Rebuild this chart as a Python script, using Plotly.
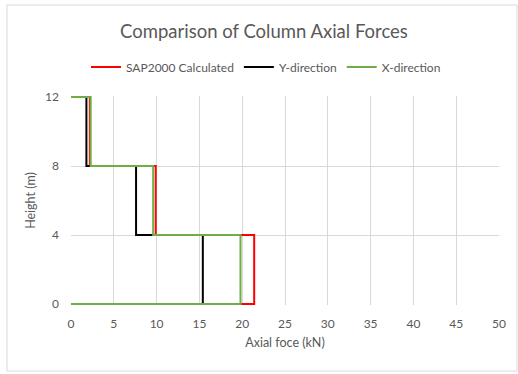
import plotly.graph_objects as go

# Floor levels (m) and axial force in each storey (kN), top storey first
levels = [12, 8, 4, 0]
sap2000 = [2.2, 9.9, 21.4]
y_dir = [1.8, 7.6, 15.4]
x_dir = [2.3, 9.6, 19.8]

x_ticks = list(range(0, 51, 5))
y_ticks = [0, 4, 8, 12]

series = [
    ("SAP2000 Calculated", sap2000, "#FF0000"),
    ("Y-direction", y_dir, "#000000"),
    ("X-direction", x_dir, "#70AD47"),
]


def step_path(forces):
    """Stepped force profile: constant force within each storey."""
    xs, ys = [0], [levels[0]]
    for i, f in enumerate(forces):
        xs += [f, f]
        ys += [levels[i], levels[i + 1]]
    xs.append(0)
    ys.append(levels[-1])
    return xs, ys


fig = go.Figure()
for name, forces, color in series:
    xs, ys = step_path(forces)
    fig.add_trace(go.Scatter(x=xs, y=ys, mode="lines", name=name,
                             line=dict(color=color, width=2)))

txt = "#595959"
grid = "#D9D9D9"
font = "Lato, 'Open Sans', sans-serif"

W, H = 518, 374
left, right, top, bottom = 71, 499, 97, 304
px_per = (bottom - top) / 12
# one pixel of vertical padding so the lines along 0 and 12 are not clipped
pad = 1 / px_per
t_m = top - 1
b_m = H - (bottom + 1)
plot_h = H - t_m - b_m


def py(y_pix):
    """Container pixel row -> paper y coordinate of the plot area."""
    return (H - b_m - y_pix) / plot_h


def px(x_pix):
    return (x_pix - left) / (right - left)


fig.update_layout(
    width=W, height=H,
    margin=dict(l=left, r=W - right, t=t_m, b=b_m),
    paper_bgcolor="white", plot_bgcolor="white",
    font=dict(family=font, color=txt, size=12),
    title=dict(text="Comparison of Column Axial Forces",
               x=264 / W, xanchor="center", xref="container",
               y=1 - 32 / H, yanchor="middle",
               font=dict(size=18.5, color=txt, family=font)),
    legend=dict(orientation="h", x=px(266), xanchor="center",
                y=py(67), yanchor="middle",
                font=dict(size=12, color=txt), traceorder="normal",
                itemwidth=30, bgcolor="rgba(0,0,0,0)"),
    xaxis=dict(range=[0, 50], tickvals=x_ticks, showgrid=True, gridcolor=grid,
               gridwidth=1, zeroline=False, showline=False, ticks="",
               tickfont=dict(size=12, color=txt), ticklabelstandoff=10,
               title=dict(text="Axial foce (kN)", font=dict(size=12.5, color=txt),
                          standoff=8)),
    yaxis=dict(range=[-pad, 12 + pad], tickvals=y_ticks, showgrid=True,
               gridcolor=grid, gridwidth=1, zeroline=False, showline=False,
               ticks="", tickfont=dict(size=12, color=txt),
               ticklabelstandoff=11,
               title=dict(text="Height (m)", font=dict(size=12.5, color=txt),
                          standoff=6)),
    shapes=[dict(type="rect", xref="paper", yref="paper",
                 x0=px(7), x1=px(517), y0=py(371), y1=py(5),
                 line=dict(color=grid, width=1), fillcolor="rgba(0,0,0,0)",
                 layer="below")],
)

fig.write_html("out.html")
